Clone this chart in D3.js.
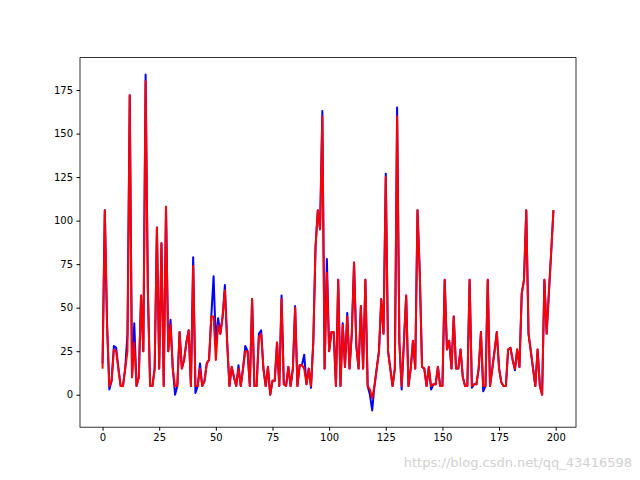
<!DOCTYPE html>
<html><head><meta charset="utf-8">
<script src="https://cdn.jsdelivr.net/npm/d3@7"></script>
<style>body{margin:0;background:#fff}</style></head>
<body><svg id="c" width="640" height="480"></svg>
<script>
const actual = [18,106,40,3,8,28,27,15,5,5,
15,35,172,10,41,5,10,57,25,184,
60,5,5,15,96,15,87,5,108,25,
43,15,0,5,36,15,20,30,37,5,
79,1,5,18,5,8,18,20,45,68,
30,44,35,45,63,30,5,16,10,5,
17,5,15,28,25,5,55,5,5,35,
37,15,5,16,0,8,8,30,5,57,
6,5,16,5,15,51,5,17,17,23,
6,15,4,30,85,106,95,163,15,78,
25,36,36,5,66,5,41,16,47,15,
35,76,28,15,51,15,66,5,0,-9,
5,15,25,55,35,127,25,15,5,15,
165,30,3,30,57,5,15,31,15,106,
70,16,15,5,16,3,6,6,16,5,
5,66,26,31,15,45,15,15,26,10,
5,5,66,4,6,6,15,36,2,5,
66,5,15,25,36,15,7,5,5,26,
27,20,14,26,16,58,66,106,35,25,
15,5,26,5,0,66,35,59,82,106];
const predicted = [15,106,40,5,8,26,25,15,5,5,
15,25,172,10,30,5,10,57,25,180,
60,5,5,15,96,15,87,5,108,25,
40,15,5,5,36,15,20,30,37,5,
74,5,5,15,5,8,18,20,45,45,
20,40,35,45,60,30,5,16,10,5,
15,5,15,25,25,5,55,5,5,33,
35,15,5,16,0,8,8,30,5,55,
6,5,16,5,15,50,5,17,17,15,
6,15,5,30,85,106,95,160,15,70,
25,36,36,5,66,5,40,16,45,15,
35,76,28,15,51,15,66,5,3,-2,
5,15,25,55,35,125,25,15,5,15,
160,30,5,30,57,5,15,31,15,106,
70,16,15,5,16,5,6,6,16,5,
5,66,26,31,15,45,15,15,26,10,
5,5,66,5,6,6,15,36,5,5,
66,5,15,25,36,15,7,5,5,26,
27,20,15,26,16,58,66,106,35,25,
15,5,26,5,0,66,35,59,82,106];
const xTicks = [0,25,50,75,100,125,150,175,200];
const yTicks = [0,25,50,75,100,125,150,175];

const svg = d3.select('#c');
const L=80,R=576,T=57.6,B=427.2;
const x = d3.scaleLinear().domain([-9.95,208.95]).range([L,R]);
const y = d3.scaleLinear().domain([-18.65,193.65]).range([B,T]);
const line = d3.line().x((d,i)=>x(i)).y(d=>y(d));
svg.append('path').datum(actual).attr('d',line).attr('fill','none').attr('stroke','#0000ff').attr('stroke-width',2).attr('stroke-linejoin','round');
svg.append('path').datum(predicted).attr('d',line).attr('fill','none').attr('stroke','#ff0000').attr('stroke-width',2).attr('stroke-linejoin','round');
const fx = g=>g.selectAll('text').attr('font-family','DejaVu Sans').attr('font-size',10).attr('fill','#000');
svg.append('g').attr('transform',`translate(0,${B})`).call(d3.axisBottom(x).tickValues(xTicks).tickSize(3.5).tickPadding(3.5)).call(g=>g.select('.domain').remove()).call(fx);
svg.append('g').attr('transform',`translate(${L},0)`).call(d3.axisLeft(y).tickValues(yTicks).tickSize(3.5).tickPadding(3.5)).call(g=>g.select('.domain').remove()).call(fx);
svg.append('rect').attr('x',L).attr('y',T).attr('width',R-L).attr('height',B-T).attr('fill','none').attr('stroke','#000').attr('stroke-width',0.8);
svg.append('text').attr('x',632).attr('y',467).attr('text-anchor','end').attr('font-family','DejaVu Sans').attr('font-size',13).attr('fill','#d0d0d0').text('https://blog.csdn.net/qq_43416598');
</script></body></html>
